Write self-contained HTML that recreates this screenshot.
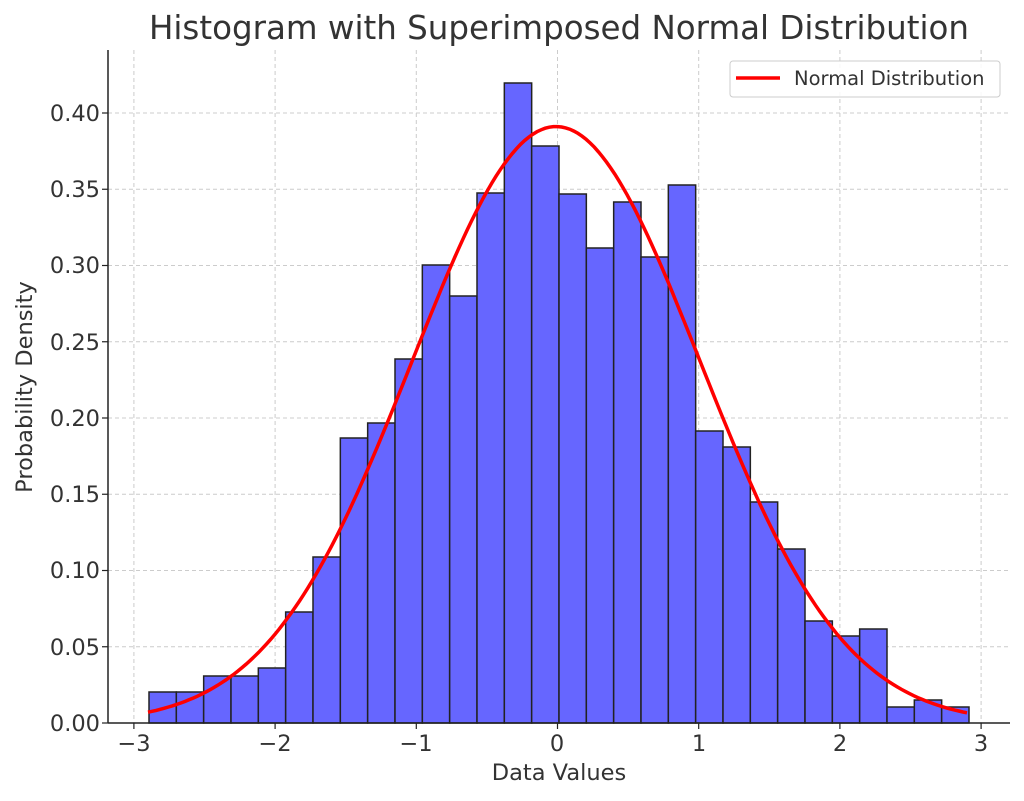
<!DOCTYPE html>
<html><head><style>body{margin:0;background:#fff}svg{display:block}text{font-family:"DejaVu Sans","Liberation Sans",sans-serif;fill:#333}</style></head>
<body>
<svg id="s" width="1024" height="801" xmlns="http://www.w3.org/2000/svg">
<g id="grid" stroke="#ccc" stroke-width="1" stroke-dasharray="4,3"></g>
<g id="bars" fill="#6666ff" stroke="#222" stroke-width="1.5"></g>
<path id="curve" fill="none" stroke="#ff0000" stroke-width="3.5"/>
<line x1="108" y1="50" x2="108" y2="723" stroke="#222" stroke-width="1.5"/>
<line x1="108" y1="723" x2="1010" y2="723" stroke="#222" stroke-width="1.5"/>
<g id="ticks" stroke="#222" stroke-width="1.2"></g>
<text x="559" y="39" font-size="32.5" text-anchor="middle">Histogram with Superimposed Normal Distribution</text>
<text x="559" y="780" font-size="22.5" text-anchor="middle">Data Values</text>
<text transform="translate(32,387) rotate(-90)" font-size="22.5" text-anchor="middle">Probability Density</text>
<g font-size="22.5" text-anchor="end">
<text x="100" y="731">0.00</text><text x="100" y="655">0.05</text><text x="100" y="578">0.10</text><text x="100" y="502">0.15</text><text x="100" y="426">0.20</text><text x="100" y="350">0.25</text><text x="100" y="273">0.30</text><text x="100" y="197">0.35</text><text x="100" y="121">0.40</text>
</g>
<g font-size="22.5" text-anchor="middle">
<text x="134" y="751">−3</text><text x="275" y="751">−2</text><text x="416" y="751">−1</text><text x="557" y="751">0</text><text x="699" y="751">1</text><text x="840" y="751">2</text><text x="981" y="751">3</text>
</g>
<rect x="730" y="61" width="270" height="36" rx="3" fill="#fff" fill-opacity="0.85" stroke="#ccc"/>
<line x1="736" y1="78" x2="780" y2="78" stroke="#ff0000" stroke-width="3.5"/>
<text x="794" y="85" font-size="19.5">Normal Distribution</text>
</svg>
<script>
var ns="http://www.w3.org/2000/svg";
function el(p,t,a){var e=document.createElementNS(ns,t);for(var k in a)e.setAttribute(k,a[k]);document.getElementById(p).appendChild(e);}
var X=function(v){return 557.5+v*141.2},Y=function(v){return 723-v*1525};
for(var i=-3;i<=3;i++){el("grid","line",{x1:X(i),y1:50,x2:X(i),y2:723});el("ticks","line",{x1:X(i),y1:723,x2:X(i),y2:729});}
for(var j=0;j<=8;j++){var y=Y(j*0.05);el("grid","line",{x1:108,y1:y,x2:1010,y2:y});el("ticks","line",{x1:102,y1:y,x2:108,y2:y});}
var tops=[692,692,676,676,668,612,557,438,423,359,265,296,193,83,146,194,248,202,257,185,431,447,502,549,621,636,629,707,700,707];
var w=(969-149)/30;
tops.forEach(function(t,i){el("bars","rect",{x:149+i*w,y:t,width:w,height:723-t});});
var d="",s=1.02,m=-0.01;
for(var k=0;k<=200;k++){var v=-2.9+5.8*k/200;var p=Math.exp(-(v-m)*(v-m)/(2*s*s))/(Math.sqrt(2*Math.PI)*s);d+=(k?"L":"M")+X(v).toFixed(1)+","+Y(p).toFixed(1);}
document.getElementById("curve").setAttribute("d",d);
</script>
</body></html>
